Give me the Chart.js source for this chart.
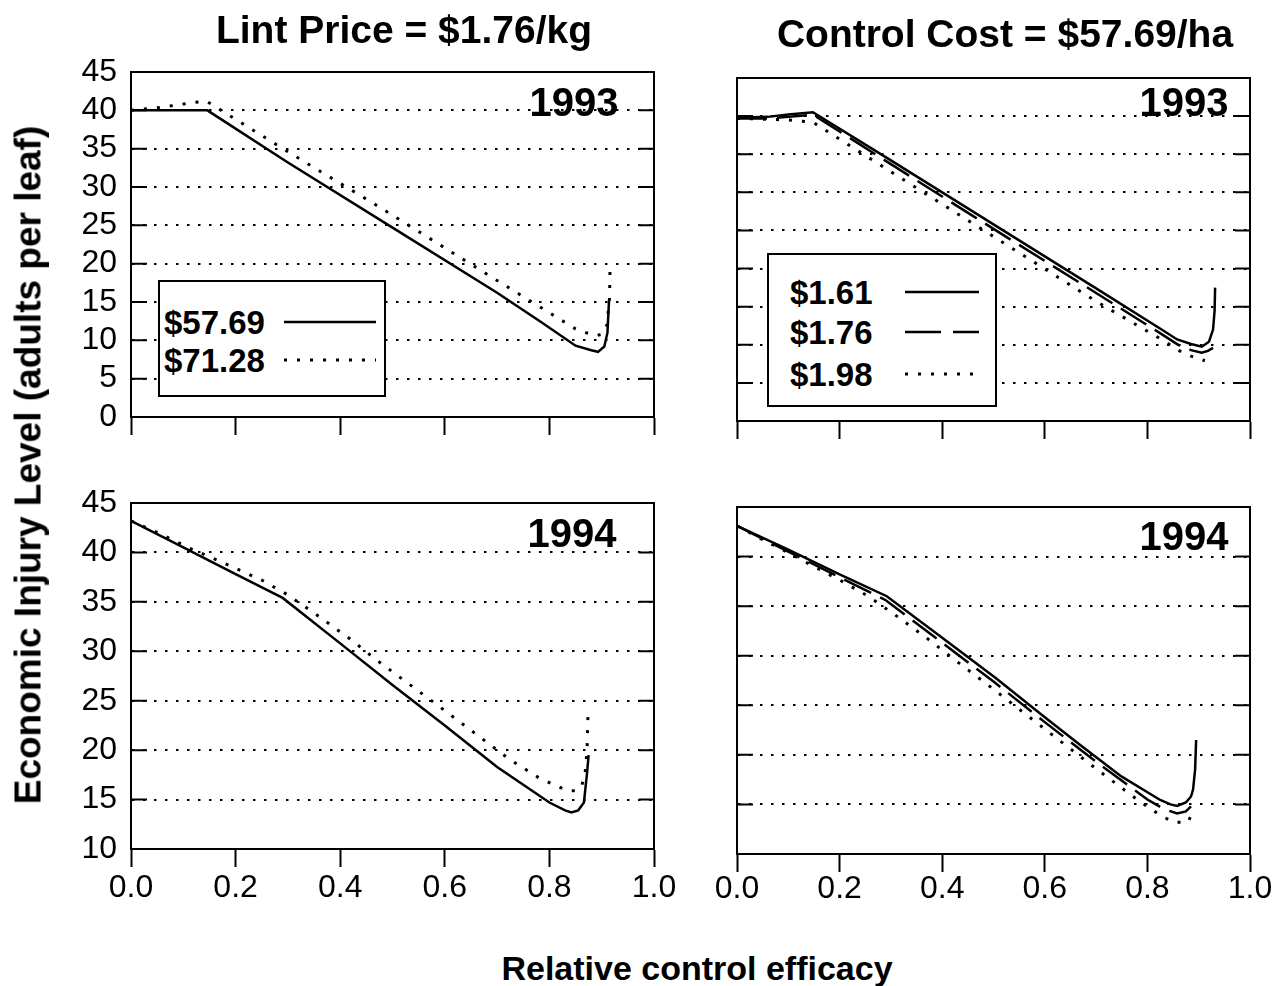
<!DOCTYPE html>
<html>
<head>
<meta charset="utf-8">
<script src="https://cdn.jsdelivr.net/npm/chart.js@4.4.1/dist/chart.umd.min.js"></script>
<style>
  body { margin: 0; background: #fff; }
  #page { position: relative; width: 1282px; height: 986px; overflow: hidden; font-family: "Liberation Sans", Arial, sans-serif; color: #000; }
  canvas { position: absolute; }
  .lbl { position: absolute; transform: translate(-50%, -50%); line-height: 1; white-space: nowrap; font-weight: bold; }
  .legend { position: absolute; border: 2px solid #000; background: #fff; box-sizing: border-box; }
  .legend span { position: absolute; font-weight: bold; font-size: 33px; line-height: 1; transform: translateY(-50%); }
  .legend svg { position: absolute; overflow: visible; }
</style>
</head>
<body>
<div id="page">
  <canvas id="tl" width="680" height="420" style="left:0;top:38px"></canvas>
  <canvas id="tr" width="582" height="410" style="left:700px;top:50px"></canvas>
  <canvas id="bl" width="680" height="470" style="left:0;top:469px"></canvas>
  <canvas id="br" width="582" height="460" style="left:700px;top:480px"></canvas>

  <div class="lbl" style="left:404px;top:29px;font-size:39px">Lint Price = $1.76/kg</div>
  <div class="lbl" style="left:1005px;top:33px;font-size:39px">Control Cost = $57.69/ha</div>
  <div class="lbl" style="left:574px;top:102px;font-size:40px">1993</div>
  <div class="lbl" style="left:1184px;top:102px;font-size:40px">1993</div>
  <div class="lbl" style="left:572px;top:533px;font-size:40px">1994</div>
  <div class="lbl" style="left:1184px;top:536px;font-size:40px">1994</div>
  <div class="lbl" style="left:28px;top:465px;font-size:37px;transform:translate(-50%,-50%) rotate(-90deg)">Economic Injury Level (adults per leaf)</div>
  <div class="lbl" style="left:697px;top:968px;font-size:34px">Relative control efficacy</div>

  <div class="legend" style="left:158px;top:280px;width:228px;height:117px">
    <span style="left:4px;top:40px">$57.69</span>
    <svg style="left:124px;top:40px" width="92" height="1"><line x1="0" y1="0" x2="92" y2="0" stroke="#000" stroke-width="2.5"/></svg>
    <span style="left:4px;top:78px">$71.28</span>
    <svg style="left:124px;top:78px" width="92" height="1"><line x1="0" y1="0" x2="92" y2="0" stroke="#000" stroke-width="3" stroke-dasharray="3 10"/></svg>
  </div>
  <div class="legend" style="left:767px;top:253px;width:230px;height:154px">
    <span style="left:21px;top:37px">$1.61</span>
    <svg style="left:136px;top:37px" width="74" height="1"><line x1="0" y1="0" x2="74" y2="0" stroke="#000" stroke-width="2.5"/></svg>
    <span style="left:21px;top:77px">$1.76</span>
    <svg style="left:136px;top:77px" width="74" height="1"><line x1="0" y1="0" x2="74" y2="0" stroke="#000" stroke-width="2.5" stroke-dasharray="36 12"/></svg>
    <span style="left:21px;top:119px">$1.98</span>
    <svg style="left:136px;top:119px" width="74" height="1"><line x1="0" y1="0" x2="74" y2="0" stroke="#000" stroke-width="3" stroke-dasharray="3 10"/></svg>
  </div>
</div>

<script>
// x ticks: relative control efficacy
const xTicks = [0, 0.2, 0.4, 0.6, 0.8, 1.0];

// 1993, lint price $1.76/kg, two control costs
const tl93CostLowX = [0, 0.146, 0.3, 0.5, 0.7, 0.784, 0.85, 0.88, 0.893, 0.905, 0.911, 0.914];
const tl93CostLowY = [40, 40, 33.2, 24.7, 16.2, 12.4, 9.3, 8.7, 8.5, 9.2, 11.0, 15.2];
const tl93CostHighX = [0, 0.059, 0.117, 0.144, 0.3, 0.477, 0.7, 0.85, 0.87, 0.89, 0.9, 0.91, 0.915, 0.916];
const tl93CostHighY = [40, 40.4, 41.0, 41.2, 34.6, 27.3, 17.8, 11.5, 11.0, 10.6, 10.8, 12.0, 15.5, 19.8];

// 1993, control cost $57.69/ha, three lint prices
const tr93P161X = [0, 0.06, 0.1, 0.148, 0.3, 0.5, 0.7, 0.83, 0.858, 0.885, 0.906, 0.92, 0.928, 0.931, 0.932];
const tr93P161Y = [39.8, 39.9, 40.2, 40.5, 34.2, 25.8, 17.4, 11.9, 10.7, 10.1, 9.75, 10.4, 12.0, 14.5, 17.5];
const tr93P176X = [0, 0.06, 0.1, 0.148, 0.3, 0.5, 0.7, 0.83, 0.86, 0.885, 0.906, 0.918, 0.928];
const tr93P176Y = [39.7, 39.7, 39.9, 40.2, 33.7, 25.2, 16.8, 11.3, 10.0, 9.3, 8.95, 9.2, 9.6];
const tr93P198X = [0, 0.1, 0.148, 0.3, 0.5, 0.7, 0.83, 0.86, 0.885, 0.912];
const tr93P198Y = [39.7, 39.5, 39.2, 32.7, 24.2, 15.7, 10.6, 9.3, 8.5, 7.9];

// 1994, lint price $1.76/kg
const bl94CostLowX = [0, 0.1, 0.2, 0.29, 0.4, 0.5, 0.6, 0.7, 0.8, 0.83, 0.842, 0.855, 0.866, 0.872, 0.875];
const bl94CostLowY = [43.2, 40.5, 37.8, 35.4, 30.8, 26.6, 22.5, 18.3, 14.7, 13.9, 13.7, 13.9, 14.7, 17.7, 19.5];
const bl94CostHighX = [0, 0.055, 0.113, 0.166, 0.25, 0.3, 0.36, 0.42, 0.47, 0.6, 0.723, 0.78, 0.834, 0.85, 0.861, 0.868, 0.872, 0.874];
const bl94CostHighY = [43.2, 41.9, 40.4, 39.2, 37.2, 35.7, 33.5, 31.2, 29.1, 24.0, 19.1, 17.2, 15.9, 15.9, 16.3, 17.5, 20.0, 24.0];

// 1994, control cost $57.69/ha
const br94P161X = [0, 0.1, 0.2, 0.292, 0.4, 0.503, 0.6, 0.669, 0.75, 0.825, 0.845, 0.858, 0.875, 0.885, 0.889, 0.893, 0.895];
const br94P161Y = [43.1, 40.7, 38.2, 36.0, 31.8, 27.8, 23.8, 21.0, 17.8, 15.45, 15.0, 14.85, 15.2, 15.8, 16.5, 18.5, 21.5];
const br94P176X = [0, 0.1, 0.2, 0.29, 0.4, 0.5, 0.6, 0.7, 0.8, 0.825, 0.84, 0.858, 0.875, 0.885];
const br94P176Y = [43.1, 40.5, 37.9, 35.6, 31.3, 27.4, 23.3, 19.3, 15.5, 14.75, 14.4, 14.1, 14.3, 14.8];
const br94P198X = [0, 0.05, 0.1, 0.146, 0.205, 0.259, 0.314, 0.372, 0.429, 0.483, 0.6, 0.7, 0.78, 0.825, 0.852, 0.879, 0.888];
const br94P198Y = [43.1, 41.7, 40.4, 39.1, 37.5, 35.9, 33.9, 31.7, 29.4, 27.3, 22.6, 18.6, 15.5, 13.9, 13.2, 13.2, 14.2];

const FONT = "'Liberation Sans', Arial, sans-serif";
const SOLID = [];
const DASHED = [30, 10];
const DOTTED = [3, 10];

function pts(xs, ys) {
  return xs.map((x, i) => ({ x: x, y: ys[i] }));
}

function series(xs, ys, dash) {
  return {
    data: pts(xs, ys),
    showLine: true,
    borderColor: "#000",
    borderWidth: dash === DOTTED ? 3 : 2.5,
    borderDash: dash,
    pointRadius: 0,
    tension: 0,
    fill: false,
  };
}

// box round the plot, with short solid ticks inside on both sides
const framePlugin = {
  id: "frame",
  afterDatasetsDraw(chart) {
    const { ctx, chartArea: a } = chart;
    const y = chart.scales.y;
    ctx.save();
    ctx.strokeStyle = "#000";
    ctx.lineWidth = 2;
    ctx.setLineDash([]);
    ctx.strokeRect(a.left, a.top, a.right - a.left, a.bottom - a.top);
    y.ticks.forEach((t) => {
      const py = y.getPixelForValue(t.value);
      ctx.beginPath();
      ctx.moveTo(a.left, py);
      ctx.lineTo(a.left + 16, py);
      ctx.moveTo(a.right - 15, py);
      ctx.lineTo(a.right, py);
      ctx.stroke();
    });
    ctx.restore();
  },
};

function makePanel(id, datasets, opts) {
  return new Chart(document.getElementById(id), {
    type: "scatter",
    data: { datasets: datasets },
    plugins: [framePlugin],
    options: {
      responsive: false,
      animation: false,
      layout: { padding: { top: opts.padTop, right: opts.padRight, left: 0, bottom: 0 } },
      plugins: { legend: { display: false }, tooltip: { enabled: false } },
      scales: {
        x: {
          type: "linear",
          min: 0,
          max: 1,
          afterBuildTicks: (s) => { s.ticks = xTicks.map((v) => ({ value: v })); },
          afterFit: (s) => { s.height = opts.xHeight; },
          grid: { drawOnChartArea: false, drawTicks: true, tickLength: 18, tickColor: "#000", tickWidth: 2 },
          border: { display: true, color: "#000", width: 2 },
          ticks: {
            display: opts.xLabels,
            autoSkip: false,
            padding: opts.xPad,
            color: "#000",
            font: { family: FONT, size: 32 },
            maxRotation: 0,
            callback: (v) => Number(v).toFixed(1),
          },
        },
        y: {
          type: "linear",
          min: opts.yMin,
          max: 45,
          afterFit: (s) => { s.width = opts.yWidth; },
          grid: { color: "#000", lineWidth: 2, drawTicks: false },
          border: { display: true, color: "#000", width: 2, dash: [2.5, 8.5] },
          ticks: {
            display: opts.yLabels,
            autoSkip: false,
            stepSize: 5,
            padding: 14,
            color: "#000",
            font: { family: FONT, size: 32 },
          },
        },
      },
    },
  });
}

makePanel("tl", [
  series(tl93CostLowX, tl93CostLowY, SOLID),
  series(tl93CostHighX, tl93CostHighY, DOTTED),
], { padTop: 34, padRight: 26, xHeight: 41, yWidth: 131, yMin: 0, xLabels: false, yLabels: true, xPad: 2 });

makePanel("tr", [
  series(tr93P161X, tr93P161Y, SOLID),
  series(tr93P176X, tr93P176Y, DASHED),
  series(tr93P198X, tr93P198Y, DOTTED),
], { padTop: 28, padRight: 32, xHeight: 39, yWidth: 37, yMin: 0, xLabels: false, yLabels: false, xPad: 2 });

makePanel("bl", [
  series(bl94CostLowX, bl94CostLowY, SOLID),
  series(bl94CostHighX, bl94CostHighY, DOTTED),
], { padTop: 34, padRight: 26, xHeight: 90, yWidth: 131, yMin: 10, xLabels: true, yLabels: true, xPad: 2 });

makePanel("br", [
  series(br94P161X, br94P161Y, SOLID),
  series(br94P176X, br94P176Y, DASHED),
  series(br94P198X, br94P198Y, DOTTED),
], { padTop: 27, padRight: 32, xHeight: 86, yWidth: 37, yMin: 10, xLabels: true, yLabels: false, xPad: -2 });
</script>
</body>
</html>
